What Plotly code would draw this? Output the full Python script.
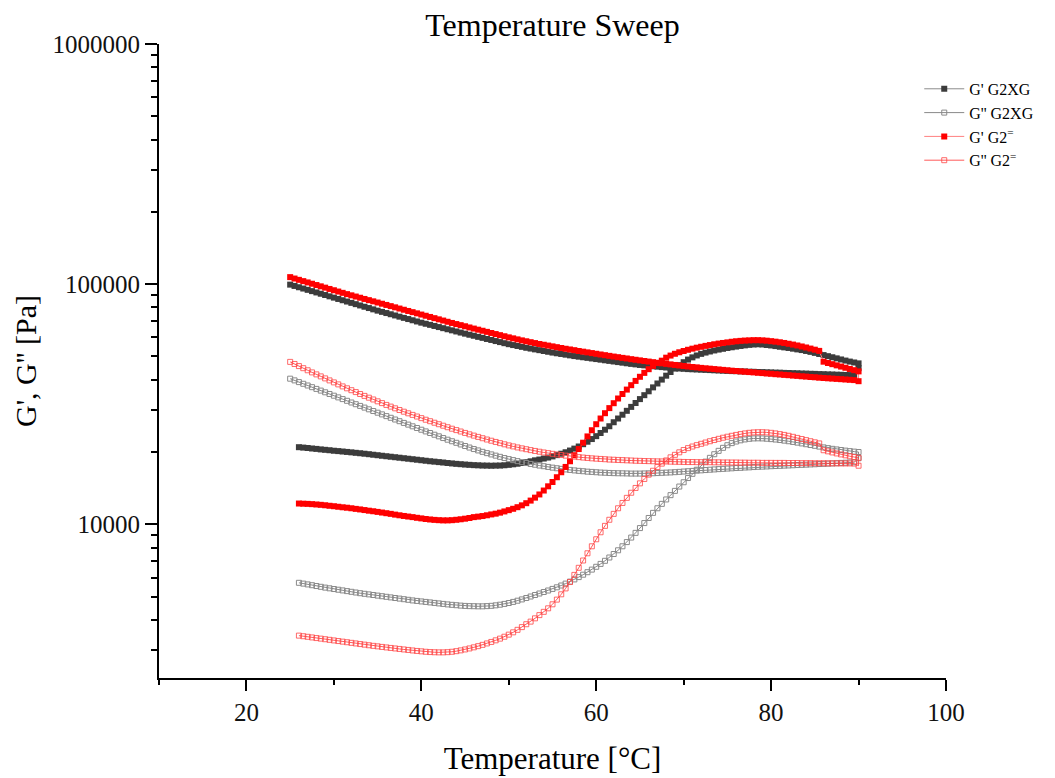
import math
import plotly.graph_objects as go

# Temperature grid (°C), 25.0 ... 90.0 in the instrument's 0.5 °C steps
temperature = [
    25.0, 25.5, 26.0, 26.5, 27.0, 27.5, 28.0, 28.5, 29.0, 29.5,
    30.0, 30.5, 31.0, 31.5, 32.0, 32.5, 33.0, 33.5, 34.0, 34.5,
    35.0, 35.5, 36.0, 36.5, 37.0, 37.5, 38.0, 38.5, 39.0, 39.5,
    40.0, 40.5, 41.0, 41.5, 42.0, 42.5, 43.0, 43.5, 44.0, 44.5,
    45.0, 45.5, 46.0, 46.5, 47.0, 47.5, 48.0, 48.5, 49.0, 49.5,
    50.0, 50.5, 51.0, 51.5, 52.0, 52.5, 53.0, 53.5, 54.0, 54.5,
    55.0, 55.5, 56.0, 56.5, 57.0, 57.5, 58.0, 58.5, 59.0, 59.5,
    60.0, 60.5, 61.0, 61.5, 62.0, 62.5, 63.0, 63.5, 64.0, 64.5,
    65.0, 65.5, 66.0, 66.5, 67.0, 67.5, 68.0, 68.5, 69.0, 69.5,
    70.0, 70.5, 71.0, 71.5, 72.0, 72.5, 73.0, 73.5, 74.0, 74.5,
    75.0, 75.5, 76.0, 76.5, 77.0, 77.5, 78.0, 78.5, 79.0, 79.5,
    80.0, 80.5, 81.0, 81.5, 82.0, 82.5, 83.0, 83.5, 84.0, 84.5,
    85.0, 85.5, 86.0, 86.5, 87.0, 87.5, 88.0, 88.5, 89.0, 89.5,
    90.0,
]
temp_heat = temperature[2:]      # heating run 26 -> 90 °C
temp_cool = temperature          # cooling run (listed ascending, measured 90 -> 25 °C)

# G' G2XG [Pa]
gp_g2xg_heat = [
    20940, 20860, 20780, 20680, 20600, 20500, 20420, 20340, 20240, 20170,
    20090, 20010, 19930, 19840, 19760, 19670, 19580, 19480, 19390, 19290,
    19200, 19110, 19020, 18930, 18840, 18750, 18660, 18570, 18480, 18390,
    18300, 18230, 18150, 18080, 17990, 17920, 17850, 17790, 17730, 17680,
    17630, 17600, 17560, 17550, 17530, 17550, 17560, 17610, 17680, 17770,
    17870, 17990, 18130, 18290, 18460, 18600, 18780, 18960, 19170, 19410,
    19670, 19950, 20280, 20660, 21080, 21550, 22070, 22640, 23280, 23990,
    24760, 25600, 26600, 27570, 28590, 29680, 30820, 31990, 33210, 34480,
    35790, 37160, 38570, 40040, 41570, 43070, 44540, 45970, 47310, 48510,
    49550, 50460, 51240, 51880, 52430, 52940, 53390, 53800, 54220, 54590,
    54950, 55270, 55590, 55860, 56070, 56180, 56070, 55800, 55540, 55220,
    54850, 54530, 54220, 53860, 53490, 53140, 52690, 52230, 51730, 51190,
    50650, 50120, 49600, 49080, 48560, 48050, 47590, 47180, 46770,
]
gp_g2xg_cool = [
    99530, 98290, 97070, 95870, 94680, 93510, 92350, 91210, 90080, 88960,
    87860, 86760, 85690, 84630, 83570, 82540, 81520, 80510, 79510, 78520,
    77550, 76660, 75790, 74920, 74060, 73210, 72370, 71550, 70720, 69910,
    69110, 68390, 67680, 66960, 66260, 65560, 64870, 64200, 63520, 62850,
    62200, 61550, 60960, 60320, 59740, 59110, 58550, 57930, 57370, 56770,
    56230, 55750, 55270, 54800, 54320, 53910, 53490, 53090, 52680, 52280,
    51880, 51530, 51190, 50850, 50510, 50170, 49880, 49600, 49310, 49030,
    48750, 48470, 48180, 47910, 47630, 47360, 47090, 46820, 46550, 46330,
    46070, 45890, 45660, 45490, 45320, 45140, 44970, 44840, 44670, 44540,
    44410, 44280, 44200, 44120, 44030, 43950, 43860, 43780, 43690, 43610,
    43530, 43440, 43400, 43320, 43280, 43190, 43150, 43070, 43030, 42950,
    42900, 42820, 42780, 42700, 42660, 42580, 42540, 42450, 42410, 42330,
    42290, 42210, 42170, 42090, 42050, 41970, 41930, 41850, 41810, 41770,
    44670,
]

# G'' G2XG [Pa]
gpp_g2xg_heat = [
    5705, 5661, 5618, 5575, 5532, 5490, 5448, 5411, 5375, 5339,
    5304, 5268, 5233, 5198, 5164, 5134, 5105, 5075, 5046, 5017,
    4988, 4960, 4931, 4903, 4875, 4847, 4818, 4795, 4772, 4750,
    4727, 4704, 4682, 4660, 4637, 4619, 4602, 4584, 4571, 4562,
    4558, 4553, 4553, 4562, 4575, 4597, 4624, 4660, 4700, 4750,
    4805, 4865, 4931, 5003, 5075, 5149, 5223, 5299, 5380, 5464,
    5559, 5661, 5771, 5894, 6026, 6166, 6316, 6475, 6652, 6839,
    7045, 7272, 7520, 7792, 8097, 8430, 8803, 9209, 9642, 10116,
    10623, 11156, 11659, 12162, 12686, 13221, 13777, 14358, 14962, 15578,
    16219, 16869, 17547, 18232, 18909, 19574, 20222, 20813, 21339, 21774,
    22109, 22366, 22559, 22690, 22778, 22798, 22778, 22712, 22625, 22539,
    22430, 22301, 22174, 22024, 21876, 21711, 21545, 21382, 21218, 21055,
    20894, 20753, 20614, 20495, 20379, 20261, 20164, 20069, 19991,
]
gpp_g2xg_cool = [
    40390, 39735, 39090, 38460, 37840, 37230, 36620, 36030, 35450, 34880,
    34310, 33760, 33210, 32670, 32140, 31620, 31110, 30610, 30110, 29620,
    29150, 28680, 28210, 27760, 27310, 26870, 26430, 26000, 25580, 25170,
    24760, 24360, 23990, 23600, 23240, 22860, 22500, 22170, 21840, 21500,
    21180, 20870, 20570, 20300, 20030, 19780, 19540, 19310, 19090, 18870,
    18680, 18500, 18320, 18140, 17990, 17830, 17700, 17560, 17450, 17330,
    17210, 17110, 17010, 16920, 16840, 16760, 16690, 16630, 16560, 16520,
    16470, 16420, 16390, 16360, 16330, 16310, 16300, 16280, 16260, 16260,
    16260, 16280, 16300, 16310, 16340, 16380, 16410, 16440, 16480, 16530,
    16580, 16630, 16680, 16720, 16770, 16820, 16870, 16920, 16970, 17010,
    17060, 17100, 17150, 17180, 17230, 17260, 17310, 17350, 17380, 17410,
    17450, 17480, 17510, 17550, 17580, 17610, 17650, 17680, 17710, 17750,
    17780, 17820, 17850, 17880, 17920, 17950, 18010, 18040, 18090, 18130,
    18840,
]

# G' G2= [Pa]
gp_g2_heat = [
    12200, 12180, 12160, 12130, 12090, 12050, 12000, 11940, 11890, 11830,
    11770, 11720, 11660, 11590, 11530, 11460, 11390, 11330, 11260, 11190,
    11120, 11050, 10970, 10900, 10830, 10770, 10710, 10640, 10580, 10520,
    10470, 10430, 10400, 10380, 10380, 10400, 10440, 10490, 10550, 10620,
    10710, 10760, 10820, 10900, 10990, 11070, 11180, 11310, 11450, 11600,
    11780, 11990, 12240, 12550, 12910, 13310, 13820, 14390, 15000, 15700,
    16470, 17330, 18300, 19390, 20570, 21860, 23220, 24640, 26100, 27570,
    29010, 30460, 31930, 33400, 34880, 36380, 37950, 39540, 41130, 42700,
    44240, 45670, 46910, 48000, 49400, 50410, 51290, 52030, 52680, 53290,
    53860, 54380, 54850, 55320, 55750, 56180, 56560, 56890, 57210, 57550,
    57820, 58040, 58210, 58320, 58430, 58430, 58320, 58150, 57880, 57600,
    57270, 56890, 56450, 56020, 55540, 55010, 54480, 53910, 53340, 52730,
    47540, 46950, 46420, 45890, 45360, 44840, 44330, 43820, 43320,
]
gp_g2_cool = [
    106950, 105520, 104210, 102920, 101650, 100390, 99140, 97910, 96700, 95490,
    94320, 93150, 91990, 90860, 89820, 88790, 87770, 86760, 85770, 84790,
    83820, 82860, 81920, 80980, 80050, 79130, 78220, 77320, 76440, 75570,
    74700, 73850, 73000, 72160, 71340, 70520, 69710, 68920, 68190, 67480,
    66770, 66000, 65310, 64620, 63950, 63280, 62610, 61960, 61310, 60670,
    60030, 59460, 58880, 58320, 57820, 57320, 56830, 56340, 55920, 55490,
    55060, 54640, 54220, 53810, 53450, 53090, 52680, 52330, 51980, 51630,
    51290, 50940, 50600, 50270, 49930, 49640, 49310, 49030, 48700, 48420,
    48140, 47860, 47590, 47320, 47050, 46820, 46550, 46330, 46070, 45840,
    45620, 45410, 45190, 45020, 44800, 44620, 44460, 44290, 44120, 43950,
    43780, 43610, 43480, 43320, 43190, 43030, 42900, 42740, 42620, 42450,
    42330, 42170, 42050, 41890, 41770, 41610, 41490, 41330, 41210, 41050,
    40940, 40780, 40660, 40540, 40430, 40310, 40200, 40080, 39960, 39850,
    39430,
]

# G'' G2= [Pa]
gpp_g2_heat = [
    3438, 3418, 3399, 3379, 3359, 3340, 3321, 3302, 3283, 3264,
    3245, 3227, 3208, 3190, 3171, 3153, 3135, 3117, 3102, 3085,
    3070, 3055, 3040, 3026, 3011, 2997, 2982, 2968, 2957, 2945,
    2937, 2931, 2928, 2928, 2934, 2945, 2962, 2985, 3011, 3040,
    3073, 3108, 3147, 3190, 3236, 3286, 3340, 3402, 3471, 3548,
    3634, 3730, 3835, 3932, 4058, 4185, 4319, 4467, 4642, 4856,
    5109, 5406, 5748, 6155, 6588, 7065, 7571, 8097, 8660, 9262,
    9849, 10441, 11049, 11659, 12267, 12883, 13529, 14166, 14805, 15443,
    16095, 16707, 17312, 17885, 18443, 19001, 19462, 19934, 20379, 20753,
    21075, 21359, 21628, 21899, 22174, 22431, 22689, 22931, 23153, 23355,
    23557, 23737, 23897, 24035, 24126, 24173, 24173, 24126, 24035, 23897,
    23737, 23557, 23355, 23130, 22887, 22645, 22409, 22174, 21942, 21711,
    20339, 20126, 19914, 19725, 19538, 19369, 19202, 19056, 18909,
]
gpp_g2_cool = [
    47450, 46510, 45580, 44670, 43780, 42900, 42090, 41290, 40510, 39730,
    38980, 38240, 37510, 36830, 36170, 35520, 34870, 34250, 33660, 33090,
    32510, 31960, 31410, 30900, 30400, 29910, 29430, 28980, 28540, 28100,
    27670, 27250, 26870, 26480, 26100, 25730, 25360, 25000, 24670, 24340,
    24010, 23690, 23400, 23110, 22820, 22540, 22280, 22020, 21770, 21530,
    21300, 21100, 20890, 20710, 20540, 20360, 20200, 20050, 19910, 19780,
    19650, 19540, 19430, 19310, 19220, 19130, 19040, 18960, 18890, 18820,
    18760, 18710, 18660, 18600, 18570, 18530, 18500, 18460, 18430, 18390,
    18370, 18340, 18320, 18300, 18280, 18270, 18250, 18230, 18210, 18200,
    18180, 18160, 18160, 18140, 18140, 18130, 18130, 18110, 18110, 18090,
    18090, 18080, 18080, 18060, 18060, 18040, 18040, 18040, 18020, 18020,
    18020, 18010, 18010, 18010, 17990, 17990, 17990, 17970, 17970, 17970,
    17950, 17950, 17950, 17940, 17940, 17940, 17920, 17920, 17920, 17900,
    17530,
]

series_names = ["G' G2XG", "G'' G2XG", "G' G2<sup>=</sup>", "G'' G2<sup>=</sup>"]

FONT = "Liberation Serif, Times New Roman, DejaVu Serif, serif"


def run(heat, cool):
    # heating run followed by the cooling run (90 -> 25 °C)
    return list(temp_heat) + list(temp_cool[::-1]), list(heat) + list(cool[::-1])


styles = [
    dict(line=dict(color="#8c8c8c", width=1),
         marker=dict(symbol="square", size=6, color="#3c3c3c", line=dict(width=0))),
    dict(line=dict(color="#6a6a6a", width=0.8),
         marker=dict(symbol="square-open", size=5, color="#8a8a8a", line=dict(width=1))),
    dict(line=dict(color="#ff8080", width=1),
         marker=dict(symbol="square", size=6, color="#ff0000", line=dict(width=0))),
    dict(line=dict(color="#ff3030", width=0.8),
         marker=dict(symbol="square-open", size=5, color="rgba(255,70,70,0.8)", line=dict(width=1))),
]

data = [
    (gp_g2xg_heat, gp_g2xg_cool),
    (gpp_g2xg_heat, gpp_g2xg_cool),
    (gp_g2_heat, gp_g2_cool),
    (gpp_g2_heat, gpp_g2_cool),
]

fig = go.Figure()
for name, (h, c), st in zip(series_names, data, styles):
    x, y = run(h, c)
    fig.add_trace(go.Scatter(x=x, y=y, mode="lines+markers", name=name,
                             line=st["line"], marker=st["marker"]))

ymin = 2290
fig.update_layout(
    width=1055, height=778,
    margin=dict(l=159, r=109, t=44, b=100, autoexpand=False),
    paper_bgcolor="white", plot_bgcolor="white",
    font=dict(family=FONT, color="black"),
    title=dict(text="Temperature Sweep", x=0.5, xref="paper", xanchor="center",
               y=1 - 25 / 778, yref="container", yanchor="middle",
               font=dict(family=FONT, size=32, color="black"), automargin=False),
    legend=dict(x=0.966, xanchor="left", y=0.956, yanchor="top",
                font=dict(family=FONT, size=16, color="black"),
                bgcolor="rgba(0,0,0,0)", tracegroupgap=0, itemwidth=40),
    showlegend=True,
)
fig.update_xaxes(
    range=[10, 100], tick0=0, dtick=20, automargin=False,
    ticks="outside", ticklen=11, tickwidth=2, tickcolor="black",
    showline=True, linewidth=2, linecolor="black", mirror=False,
    showgrid=False, zeroline=False,
    tickfont=dict(family=FONT, size=25, color="#111"),
    minor=dict(ticks="outside", tick0=0, dtick=10, ticklen=5, tickwidth=2, tickcolor="black", showgrid=False),
    title=dict(text="Temperature [°C]", font=dict(family=FONT, size=31, color="black"), standoff=22),
)
fig.update_yaxes(
    type="log", range=[math.log10(ymin), 6], dtick=1, tickformat="d", automargin=False,
    ticks="outside", ticklen=12, tickwidth=2, tickcolor="black",
    showline=True, linewidth=2, linecolor="black", mirror=False,
    showgrid=False, zeroline=False,
    tickfont=dict(family=FONT, size=25, color="#111"),
    minor=dict(ticks="outside", dtick="D1", ticklen=6, tickwidth=2, tickcolor="black", showgrid=False),
    title=dict(text="G', G'' [Pa]", font=dict(family=FONT, size=30, color="black"), standoff=7),
)

fig.write_html("out.html", config={"displayModeBar": False})

# remove the browser's default page margin so the figure sits at the window's top-left corner
with open("out.html", "r", encoding="utf-8") as f:
    page = f.read()
page = page.replace("<head>", "<head><style>html,body{margin:0;padding:0;}</style>", 1)
with open("out.html", "w", encoding="utf-8") as f:
    f.write(page)
